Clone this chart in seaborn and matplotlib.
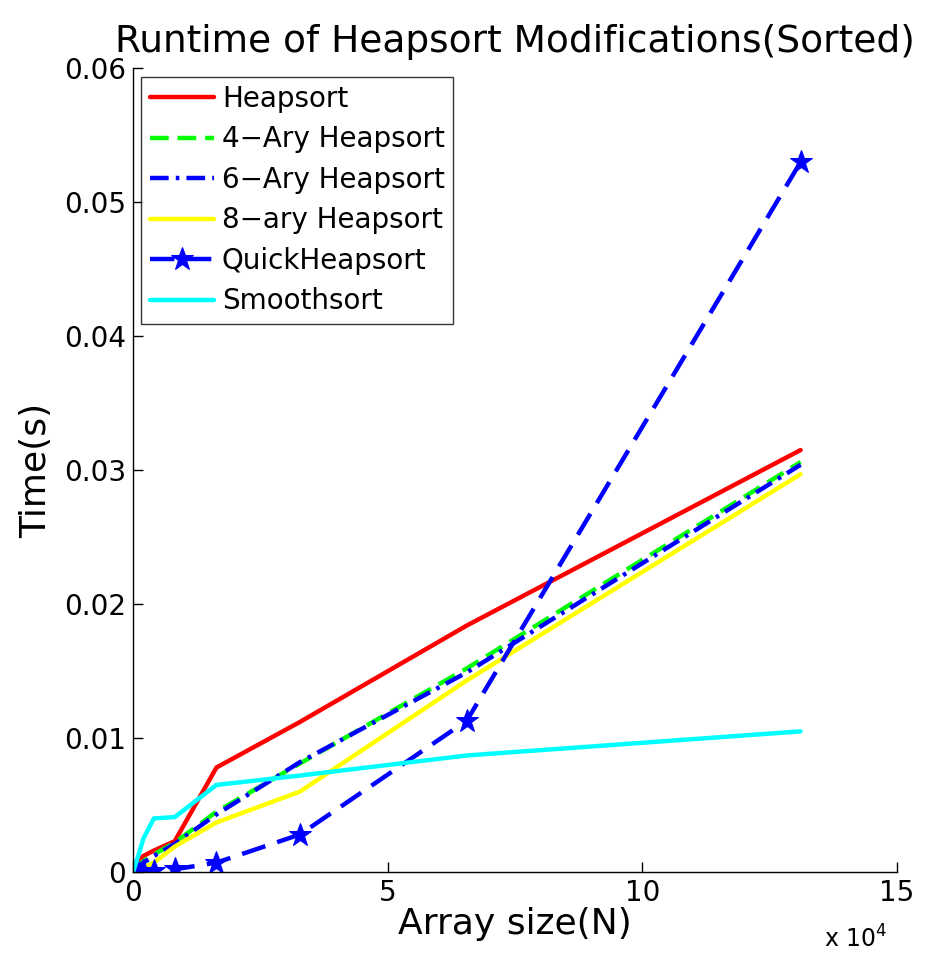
import matplotlib
matplotlib.use("Agg")
import matplotlib.pyplot as plt
import seaborn as sns
import numpy as np

N = [128, 256, 512, 1024, 2048, 4096, 8192, 16384, 32768, 65536, 131072]
heapsort = [0.0002, 0.0003, 0.0005, 0.0009, 0.0012, 0.0016, 0.0023, 0.0078, 0.0112, 0.0184, 0.0315]
ary4 = [0.0001, 0.0002, 0.0003, 0.0005, 0.0008, 0.0013, 0.0022, 0.0045, 0.0081, 0.0152, 0.0306]
ary6 = [0.0001, 0.0001, 0.0002, 0.0004, 0.0007, 0.0012, 0.0021, 0.0043, 0.0082, 0.0149, 0.0304]
ary8 = [0.0000, 0.0000, 0.0001, 0.0001, 0.0003, 0.0007, 0.0019, 0.0037, 0.0060, 0.0143, 0.0297]
quick = [0.0000, 0.0000, 0.0000, 0.0000, 0.0001, 0.0001, 0.0002, 0.0007, 0.0028, 0.0113, 0.0530]
smooth = [0.0001, 0.0003, 0.0006, 0.0012, 0.0025, 0.0040, 0.0041, 0.0065, 0.0072, 0.0087, 0.0105]

labels = ["Heapsort", "4\u2212Ary Heapsort", "6\u2212Ary Heapsort", "8\u2212ary Heapsort", "QuickHeapsort", "Smoothsort"]
series = [heapsort, ary4, ary6, ary8, quick, smooth]
colors = ["#ff0000", "#00ff00", "#0000ff", "#ffff00", "#0000ff", "#00ffff"]
styles = ["-", (0, (4.2, 2.0)), (0, (4.2, 1.6, 0.8, 1.6)), "-", (0, (5.5, 2.8)), "-"]
markers = [None, None, None, None, "*", None]

sns.set_theme(style="white")
plt.rcParams['font.family'] = ['DejaVu Sans']
plt.rcParams['text.color'] = 'black'
plt.rcParams['axes.labelcolor'] = 'black'

fig = plt.figure(figsize=(9.38, 9.61), dpi=100)
ax = fig.add_axes([0.1418, 0.0926, 0.8145, 0.8364])

for lab, ys, c, ls, m in zip(labels, series, colors, styles, markers):
    sns.lineplot(x=N, y=ys, ax=ax, color=c, linestyle=ls, linewidth=3.2,
                 marker=m, markersize=17, markeredgecolor=c, label=lab)

ax.set_xlim(0, 150000)
ax.set_ylim(0, 0.06)
ax.set_xticks([0, 50000, 100000, 150000])
ax.set_xticklabels(["0", "5", "10", "15"])
ax.set_yticks([0, 0.01, 0.02, 0.03, 0.04, 0.05, 0.06])
ax.set_yticklabels(["0", "0.01", "0.02", "0.03", "0.04", "0.05", "0.06"])
ax.tick_params(direction="in", length=7, width=1, labelsize=20, colors="black",
               left=True, bottom=True, pad=5)
for s in ["top", "right"]:
    ax.spines[s].set_visible(False)
for s in ["left", "bottom"]:
    ax.spines[s].set_color("black")
    ax.spines[s].set_linewidth(1)

ax.set_title("Runtime of Heapsort Modifications(Sorted)", fontsize=27, pad=12, color="black")
ax.set_xlabel("Array size(N)", fontsize=26, labelpad=0)
ax.set_ylabel("Time(s)", fontsize=26, labelpad=8)
fig.text(0.878, 0.014, r"x 10$^4$", fontsize=17)

leg = ax.legend(loc="upper left", fontsize=20, frameon=True, fancybox=False,
                handlelength=2.3, handletextpad=0.3, borderaxespad=0.3,
                labelspacing=0.45, borderpad=0.3)
leg.get_frame().set_edgecolor("black")
leg.get_frame().set_linewidth(1)

fig.savefig("out.png", dpi=100, facecolor="white")
